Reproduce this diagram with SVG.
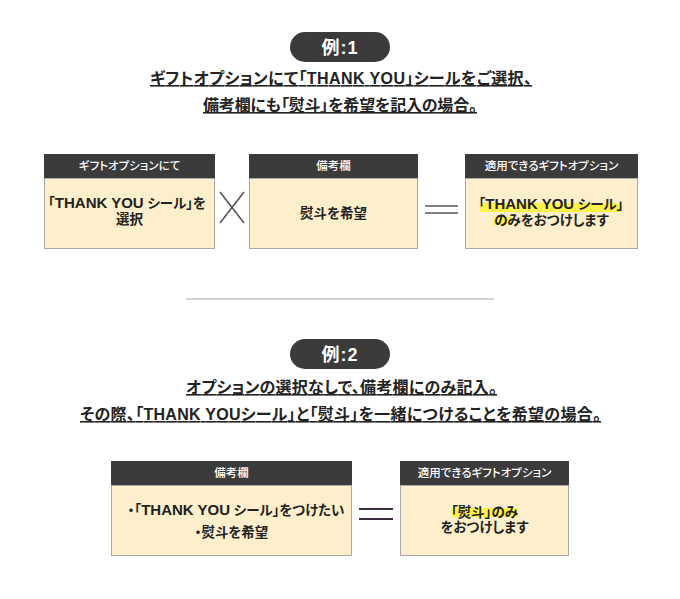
<svg xmlns="http://www.w3.org/2000/svg" width="680" height="599" viewBox="0 0 680 599">
<style>
text{font-family:"Liberation Sans","Noto Sans CJK JP",sans-serif;text-anchor:middle;font-feature-settings:"palt"}
.pill{fill:#3b3b3b}
.pilltxt{fill:#fff;font-size:18px;font-weight:700;letter-spacing:1px}
.title{fill:#222;font-size:16px;font-weight:700;text-decoration:underline}
.hd{fill:#3b3b3b}
.hdtxt{fill:#fff;font-size:11.5px;font-weight:500}
.body{fill:#fdefcb;stroke:#a8a8a8;stroke-width:1}
.bt{fill:#222;font-size:13.5px;font-weight:700}
.lat{font-size:15px}
.hl{fill:#fff34a}
.op{stroke:#555;stroke-width:1.6;fill:none}
.op2{stroke:#3e2a3e;stroke-width:2;fill:none}
</style>
<rect width="680" height="599" fill="#fff"/>

<g id="example1-heading">
<rect class="pill" x="290" y="32" width="100" height="30" rx="15"/>
<text class="pilltxt" x="340" y="53.5">例:1</text>
<text class="title" x="341" y="84" textLength="382" lengthAdjust="spacing">ギフトオプションにて「THANK YOU」シールをご選択、</text>
<text class="title" x="340" y="111" textLength="274" lengthAdjust="spacing">備考欄にも「熨斗」を希望を記入の場合。</text>
</g>

<g id="box-gift-option">
<rect class="hd" x="44" y="154" width="171" height="24"/>
<rect class="body" x="44.5" y="178.5" width="170" height="70"/>
<text class="hdtxt" x="129.5" y="170">ギフトオプションにて</text>
<text class="bt" x="127" y="208">「<tspan class="lat">THANK YOU</tspan> シール」を</text>
<text class="bt" x="129.5" y="224">選択</text>
</g>

<g id="box-remarks1">
<rect class="hd" x="249" y="154" width="169" height="24"/>
<rect class="body" x="249.5" y="178.5" width="168" height="70"/>
<text class="hdtxt" x="333.5" y="170">備考欄</text>
<text class="bt" x="333.5" y="218">熨斗を希望</text>
</g>

<g id="box-result1">
<rect class="hd" x="465" y="154" width="173" height="24"/>
<rect class="body" x="465.5" y="178.5" width="172" height="70"/>
<text class="hdtxt" x="551.5" y="170">適用できるギフトオプション</text>
<rect class="hl" x="480" y="203" width="142" height="9"/>
<rect class="hl" x="493" y="217" width="19" height="8"/>
<text class="bt" x="551" y="209">「<tspan class="lat">THANK YOU</tspan> シール」</text>
<text class="bt" x="551.5" y="225">のみをおつけします</text>
</g>

<g id="divider">
<line x1="186" y1="299" x2="494" y2="299" stroke="#aaa" stroke-width="1"/>
</g>

<g id="example2-heading">
<rect class="pill" x="290" y="339" width="100" height="30" rx="15"/>
<text class="pilltxt" x="340" y="360.5">例:2</text>
<text class="title" x="341.5" y="393" textLength="311" lengthAdjust="spacing">オプションの選択なしで、備考欄にのみ記入。</text>
<text class="title" x="340.5" y="420" textLength="521" lengthAdjust="spacing">その際、「THANK YOUシール」と「熨斗」を一緒につけることを希望の場合。</text>
</g>

<g id="box-remarks2">
<rect class="hd" x="111" y="461" width="241" height="24"/>
<rect class="body" x="111.5" y="485.5" width="240" height="70"/>
<text class="hdtxt" x="231.5" y="477">備考欄</text>
<text class="bt" x="236" y="515">・「<tspan class="lat">THANK YOU</tspan> シール」をつけたい</text>
<text class="bt" x="231.5" y="537">・熨斗を希望</text>
</g>

<g id="box-result2">
<rect class="hd" x="400" y="461" width="169" height="24"/>
<rect class="body" x="400.5" y="485.5" width="168" height="70"/>
<text class="hdtxt" x="484.5" y="477">適用できるギフトオプション</text>
<rect class="hl" x="452" y="508" width="66" height="9"/>
<text class="bt" x="484.5" y="517">「熨斗」のみ</text>
<text class="bt" x="484.5" y="532">をおつけします</text>
</g>

<g id="connectors">
<line class="op" x1="220" y1="192" x2="244" y2="223"/>
<line class="op" x1="244" y1="192" x2="220" y2="223"/>
<line class="op" x1="425" y1="206" x2="458" y2="206"/>
<line class="op" x1="425" y1="213" x2="458" y2="213"/>
<line class="op2" x1="359" y1="509" x2="393" y2="509"/>
<line class="op2" x1="359" y1="519" x2="393" y2="519"/>
</g>
</svg>
